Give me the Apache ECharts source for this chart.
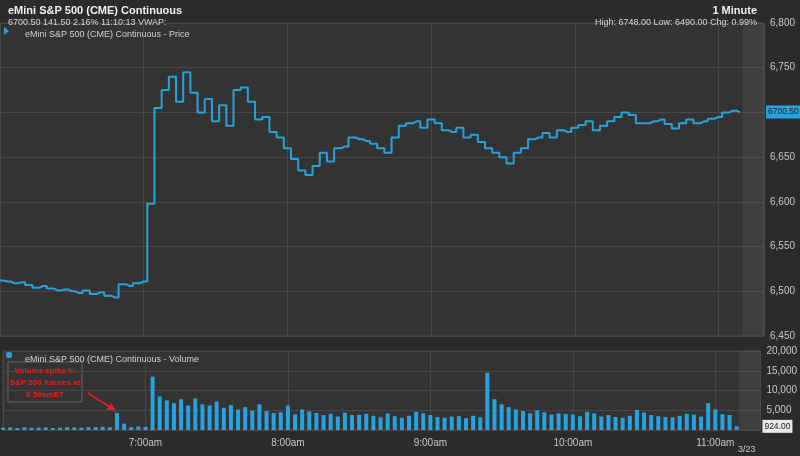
<!DOCTYPE html>
<html><head><meta charset="utf-8">
<script src="https://cdn.jsdelivr.net/npm/echarts@6/dist/echarts.min.js"></script>
<style>html,body{margin:0;background:#2b2b2b}#c{width:800px;height:456px}</style>
</head><body><div id="c"></div>
<script>
// minutes after 6:00am, one point every 3 minutes
var minutes = [];
for (var m = 0; m <= 309; m += 3) minutes.push(m);

var price = [
  6512,6511,6509,6510,6507,6504,6506,6503,6501,6502,
  6500,6498,6501,6497,6499,6495,6493,6508,6506,6509,
  6511,6598,6705,6725,6740,6712,6745,6722,6700,6715,
  6690,6708,6685,6725,6728,6712,6692,6695,6678,6672,
  6660,6648,6635,6630,6640,6655,6645,6660,6662,6672,
  6670,6668,6665,6660,6655,6672,6685,6688,6690,6683,
  6692,6688,6680,6678,6683,6672,6675,6667,6660,6655,
  6650,6643,6655,6660,6670,6672,6677,6672,6680,6678,
  6683,6686,6690,6680,6685,6690,6695,6700,6697,6688,
  6688,6690,6692,6687,6682,6688,6692,6688,6690,6693,
  6695,6700,6702,6700
];

var volume = [
  600,650,500,700,550,600,650,500,600,700,
  650,600,700,750,800,700,4300,1600,700,900,
  800,13500,8500,7500,6800,7800,6200,8000,6500,6200,
  7200,5600,6300,5200,5800,4900,6500,4800,4300,4500,
  6200,4000,5200,4700,4300,3800,4100,3400,4400,3800,
  3900,4100,3600,3200,4200,3500,3100,3600,4600,4200,
  3800,3300,3100,3400,3500,3000,3600,3200,14500,7800,
  6500,5800,5200,4800,4200,5000,4500,3900,4200,4100,
  3900,3500,4600,4200,3400,3800,3300,3100,3600,5100,
  4400,3800,3500,3300,3200,3600,4100,3900,3400,6800,
  5200,4000,3800,924
];

var hourLabels = {60:'7:00am',120:'8:00am',180:'9:00am',240:'10:00am',300:'11:00am'};

var lastPrice = 6700.5, lastVolume = 924;

var priceData = minutes.map(function(t,i){return [t, price[i]];});
var volData = minutes.map(function(t,i){return [t, volume[i]];});

var blue = '#25a3df';
var gridLine = {lineStyle:{color:'#474747',width:1}};
var axisText = {color:'#c8c8c8', fontSize:10, fontFamily:'Arial, Liberation Sans'};

var xCommon = {
  type:'value', min:0, max:319, interval:60,
  axisLine:{show:false}, axisTick:{show:false},
  splitLine:{show:true, lineStyle:{color:'#474747'}}
};

function tagPoint(y, text, bg){
  return {silent:true, symbol:'circle', symbolSize:2, itemStyle:{color:'transparent'},
    label:{show:true, position:'right', formatter:text, color:'#1b1b1b', fontSize:8.5,
           backgroundColor:bg, padding:[2,2], offset:[-4,0]},
    data:[{coord:[319, y]}]};
}

var chart = echarts.init(document.getElementById('c'));
chart.setOption({
  backgroundColor:'#2b2b2b',
  animation:false,
  textStyle:{fontFamily:'Arial, Liberation Sans'},
  title:[
    {text:'eMini S&P 500 (CME) Continuous', left:3, top:0,
     textStyle:{color:'#f0f0f0', fontSize:11, fontWeight:'bold'}},
    {text:'6700.50 141.50 2.16% 11:10:13 VWAP:', left:3, top:13,
     textStyle:{color:'#d8d8d8', fontSize:9, fontWeight:'normal'}},
    {text:'1 Minute', right:38, top:0,
     textStyle:{color:'#f0f0f0', fontSize:11, fontWeight:'bold'}},
    {text:'High: 6748.00 Low: 6490.00 Chg: 0.99%', right:38, top:13,
     textStyle:{color:'#d8d8d8', fontSize:9, fontWeight:'normal'}},
    {text:'eMini S&P 500 (CME) Continuous - Price', left:20, top:25,
     textStyle:{color:'#d0d0d0', fontSize:9, fontWeight:'normal'}},
    {text:'eMini S&P 500 (CME) Continuous - Volume', left:20, top:350,
     textStyle:{color:'#d0d0d0', fontSize:9, fontWeight:'normal'}}
  ],
  grid:[
    {left:0, right:36, top:23, height:313, show:true, backgroundColor:'#333333', borderColor:'#474747'},
    {left:0, right:36, top:351, height:79, show:true, backgroundColor:'#333333', borderColor:'#474747'}
  ],
  xAxis:[
    Object.assign({gridIndex:0, axisLabel:{show:false}}, xCommon),
    Object.assign({gridIndex:1, axisLabel:Object.assign({
      formatter:function(v){return hourLabels[v]||'';}, margin:8}, axisText)}, xCommon)
  ],
  yAxis:[
    {gridIndex:0, type:'value', position:'right', min:6450, max:6800, interval:50,
     axisLine:{show:false}, axisTick:{show:false}, splitLine:gridLine,
     axisLabel:Object.assign({formatter:function(v){return v.toLocaleString('en-US');}, margin:6}, axisText)},
    {gridIndex:1, type:'value', position:'right', min:0, max:20000, interval:5000,
     axisLine:{show:false}, axisTick:{show:false}, splitLine:gridLine,
     axisLabel:Object.assign({formatter:function(v){return v===0?'':v.toLocaleString('en-US');}, margin:6}, axisText)}
  ],
  series:[
    {type:'line', xAxisIndex:0, yAxisIndex:0, data:priceData, symbol:'none', step:'middle', clip:false,
     lineStyle:{color:blue, width:2},
     markArea:{silent:true, itemStyle:{color:'rgba(255,255,255,0.06)'}, data:[[{xAxis:310},{xAxis:319}]]},
     markPoint:tagPoint(lastPrice, '6700.50', blue)},
    {type:'bar', xAxisIndex:1, yAxisIndex:1, data:volData, barWidth:4, clip:false,
     itemStyle:{color:blue},
     markArea:{silent:true, itemStyle:{color:'rgba(255,255,255,0.06)'}, data:[[{xAxis:310},{xAxis:319}]]},
     markPoint:tagPoint(lastVolume, '924.00', '#e8e8e8')}
  ],
  graphic:[
    {type:'polygon', shape:{points:[[4,27],[9,31],[4,35]]}, style:{fill:blue}},
    {type:'rect', shape:{x:6,y:352,width:6,height:6,r:2}, style:{fill:blue}},
    {type:'rect', shape:{x:8,y:362,width:74,height:40}, style:{fill:'none', stroke:'#666'}},
    {type:'text', style:{x:45, y:365, text:'Volume spike in\nS&P 500 futures at\n6:50amET',
      fill:'#e82020', font:'bold 8px Arial', align:'center', lineHeight:12}},
    {type:'line', shape:{x1:88,y1:393,x2:113,y2:409}, style:{stroke:'#e02020', lineWidth:2}},
    {type:'polygon', shape:{points:[[117,412],[106,410],[111,403]]}, style:{fill:'#e02020'}},
    {type:'text', style:{x:738, y:445, text:'3/23', fill:'#c8c8c8', font:'9px Arial'}}
  ]
});
</script></body></html>
